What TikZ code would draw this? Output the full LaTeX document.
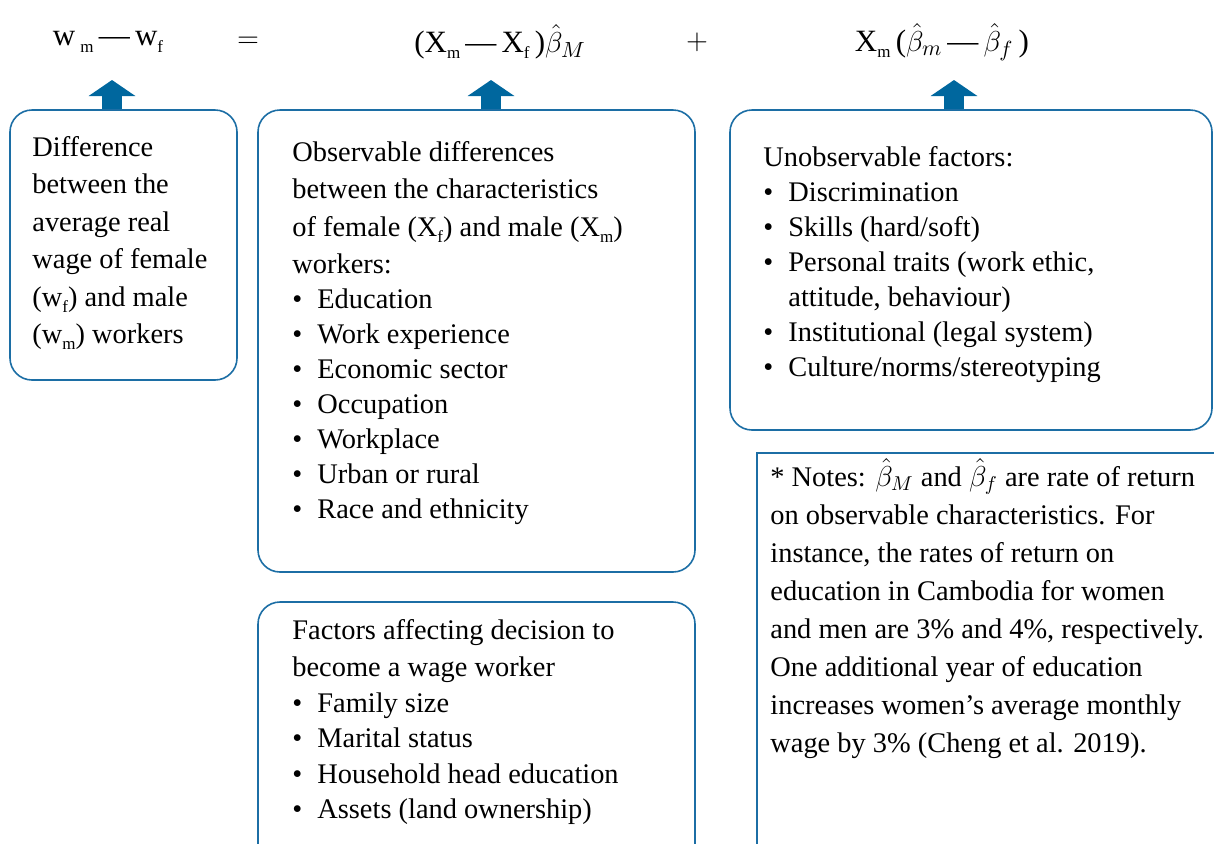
\documentclass[tikz,border=0pt]{standalone}
\usepackage{fontspec}
\setmainfont{Liberation Serif}
\usetikzlibrary{fit,calc,arrows.meta}

\definecolor{framecol}{RGB}{28,110,165}
\definecolor{arrowcol}{RGB}{0,103,158}
\newcommand\itm{\makebox[12.5pt][l]{\textbullet}}
\newcommand\lowsub[1]{\raisebox{-0.45ex}{\fontsize{8.5}{8.5}\selectfont#1}}

\begin{document}
\begin{tikzpicture}[x=0.5pt,y=-0.5pt,
    box/.style={draw=framecol,line width=0.8pt,rounded corners=11pt,inner sep=0pt},
    notebox/.style={draw=framecol,line width=0.6pt,inner sep=0pt},
    txt/.style={anchor=north west,inner sep=0pt,align=left,
      font=\fontsize{14.2}{18.75}\selectfont},
    eqn/.style={inner sep=0pt,font=\fontsize{15.5}{18}\selectfont},
    blockarrow/.style={arrowcol,line width=10pt,-{Triangle[length=8pt,width=23pt]}}]
  \useasboundingbox (0,0) rectangle (1214,843);
  \clip (0,0) rectangle (1214,843);

  % equation
  \node[eqn] (lhs) at (108,42) {w\,\lowsub{m}\,—\,w\lowsub{f}};
  \node[eqn] (eqsign) at (248,42) {$=$};
  \node[eqn] (explained) at (500,42) {(X\lowsub{m}\,—\,X\lowsub{f}\,)$\hat{\beta}_M$};
  \node[eqn] (plus) at (697,42) {$+$};
  \node[eqn] (unexplained) at (942,42) {X\lowsub{m}\,($\hat{\beta}_m$\,—\,$\hat{\beta}_f$\,)};

  % boxes
  \node[box,fit={(10,110) (237,380)}] (diffbox) {};
  \node[box,fit={(258,110) (695,572)}] (obsbox) {};
  \node[box,fit={(258,602) (695,900)}] (decbox) {};
  \node[box,fit={(730,110) (1212,430)}] (unobsbox) {};
  \node[notebox,fit={(757,453) (1280,900)}] (notesbox) {};

  % arrows
  \coordinate (tipL) at (112,80);
  \coordinate (tipM) at (491,80);
  \coordinate (tipR) at (954,80);
  \draw[blockarrow] (tipL |- diffbox.north) -- (tipL);
  \draw[blockarrow] (tipM |- obsbox.north) -- (tipM);
  \draw[blockarrow] (tipR |- unobsbox.north) -- (tipR);

  % texts
  \node[txt] (difftext) at (32,136) {Difference\\ between the\\ average real\\
    wage of female\\ (w\lowsub{f}) and male\\ (w\lowsub{m}) workers};

  \node[txt] (obstext) at (292,141) {Observable differences\\
    between the characteristics\\
    of female (X\lowsub{f}) and male (X\lowsub{m})\\
    workers:\\[-1.25pt]
    \itm Education\\[-1.25pt]
    \itm Work experience\\[-1.25pt]
    \itm Economic sector\\[-1.25pt]
    \itm Occupation\\[-1.25pt]
    \itm Workplace\\[-1.25pt]
    \itm Urban or rural\\[-1.25pt]
    \itm Race and ethnicity};

  \node[txt] (dectext) at (292,619) {Factors affecting decision to\\
    become a wage worker\\[-1pt]
    \itm Family size\\[-1pt]
    \itm Marital status\\[-1pt]
    \itm Household head education\\[-1pt]
    \itm Assets (land ownership)};

  \node[txt,font=\fontsize{14.2}{17.5}\selectfont] (unobstext) at (763,146) {Unobservable factors:\\
    \itm Discrimination\\
    \itm Skills (hard/soft)\\
    \itm Personal traits (work ethic,\\
    \hspace*{12.5pt}attitude, behaviour)\\
    \itm Institutional (legal system)\\
    \itm Culture/norms/stereotyping};

  \node[txt,font=\fontsize{14.2}{19}\selectfont] (notestext) at (770,458) {* Notes: $\hat{\beta}_M$ and $\hat{\beta}_f$ are rate of return\\
    on observable characteristics. For\\
    instance, the rates of return on\\
    education in Cambodia for women\\
    and men are 3\% and 4\%, respectively.\\
    One additional year of education\\
    increases women’s average monthly\\
    wage by 3\% (Cheng et al. 2019).};
\end{tikzpicture}
\end{document}
